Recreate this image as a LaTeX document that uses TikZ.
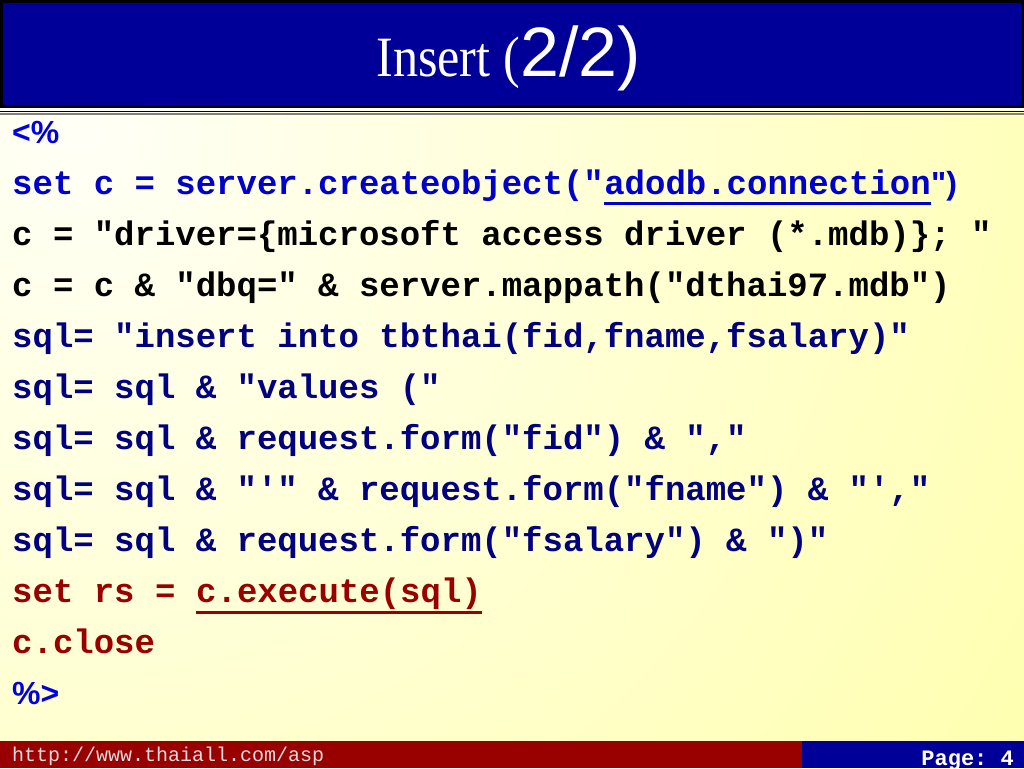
\documentclass[tikz,border=0pt]{standalone}
\usepackage{fontspec}
\setmainfont{Liberation Serif}
\setsansfont{Liberation Sans}[Ligatures=TeXOff]
\setmonofont{Liberation Mono}
\usepackage{xcolor}
\usepackage{tikz}
\definecolor{titlenavy}{RGB}{0, 0, 153}
\definecolor{codeblue}{RGB}{0, 0, 204}
\definecolor{tagblue}{RGB}{0, 0, 230}
\definecolor{sqlnavy}{RGB}{0, 0, 128}
\definecolor{codered}{RGB}{153, 0, 0}
\definecolor{footred}{RGB}{153, 0, 0}
\definecolor{footblue}{RGB}{0, 0, 153}
\definecolor{urlgray}{RGB}{220, 220, 220}
\definecolor{bgyellow}{RGB}{255, 255, 153}
\definecolor{bgpale}{RGB}{255, 255, 246}
\usetikzlibrary{positioning, calc}

\begin{document}
\begin{tikzpicture}[
    x=1pt, y=-1pt,
    code/.style={anchor=base west, inner sep=0pt, font=\fontsize{34}{40}\selectfont\ttfamily\bfseries},
    tag/.style={anchor=base west, inner sep=0pt, font=\fontsize{32}{38}\selectfont\sffamily\bfseries, text=tagblue},
    uline/.style={line width=3pt}
]
    \useasboundingbox (0,0) rectangle (1024,768);

    % slide background
    \fill[bgyellow] (0,110) rectangle (1024,741);
    \begin{scope}
        \clip (0,110) rectangle (1024,741);
        \shade[inner color=bgpale, outer color=bgyellow] (80,130) circle (1500pt);
    \end{scope}

    % title bar
    \fill[titlenavy, draw=black, line width=3pt] (1.5,1.5) rectangle (1022.5,106.5);
    \draw[line width=1.5pt] (0,111.5) -- (1024,111.5);
    \draw[gray, line width=1.5pt] (0,114) -- (1024,114);
    \node[anchor=base east, inner sep=0pt, text=white, font=\fontsize{57}{66}\selectfont\rmfamily] (ttlword) at (520,76) {\scalebox{0.88}[1]{Insert (}};
    \node[anchor=base west, inner sep=0pt, text=white, font=\fontsize{70}{80}\selectfont\sffamily] (ttlnum) at (ttlword.base east) {2/2)};

    % code lines
    \node[tag] (open) at (12,143) {<\%};
    \node[code, text=codeblue] (setc) at (12,194) {set c = server.createobject("};
    \node[code, text=codeblue] (conn) at (setc.base east) {adodb.connection};
    \node[tag, text=codeblue] (connend) at (conn.base east) {")};
    \node[code, text=black] (drv) at (12,245) {c = "driver=\{microsoft access driver (*.mdb)\}; "};
    \node[code, text=black] (dbq) at (12,296) {c = c \& "dbq=" \& server.mappath("dthai97.mdb")};
    \node[code, text=sqlnavy] (sqlA) at (12,347) {sql= "insert into tbthai(fid,fname,fsalary)"};
    \node[code, text=sqlnavy] (sqlB) at (12,398) {sql= sql \& "values ("};
    \node[code, text=sqlnavy] (sqlC) at (12,449) {sql= sql \& request.form("fid") \& ","};
    \node[code, text=sqlnavy] (sqlD) at (12,500) {sql= sql \& "'" \& request.form("fname") \& "',"};
    \node[code, text=sqlnavy] (sqlE) at (12,551) {sql= sql \& request.form("fsalary") \& ")"};
    \node[code, text=codered] (setrs) at (12,602) {set rs =};
    \node[code, text=codered] (exec) at ([xshift=20.4pt]setrs.base east) {c.execute(sql)};
    \node[code, text=codered] (close) at (12,653) {c.close};
    \node[tag] (shut) at (12,704) {\%>};

    % underlines
    \draw[uline, codeblue] ([yshift=-9pt]conn.base west) -- ([yshift=-9pt]conn.base east);
    \draw[uline, codered] ([yshift=-10pt]exec.base west) -- ([yshift=-10pt]exec.base east);

    % footer
    \fill[footred] (0,741) rectangle (802,768);
    \fill[footblue] (802,741) rectangle (1024,768);
    \node[anchor=base west, inner sep=0pt, text=urlgray, font=\fontsize{20}{24}\selectfont\ttfamily] (url) at (12,761) {http://www.thaiall.com/asp};
    \node[anchor=base east, inner sep=0pt, text=white, font=\fontsize{22}{26}\selectfont\ttfamily\bfseries] (page) at (1014,765) {Page: 4};
\end{tikzpicture}
\end{document}
